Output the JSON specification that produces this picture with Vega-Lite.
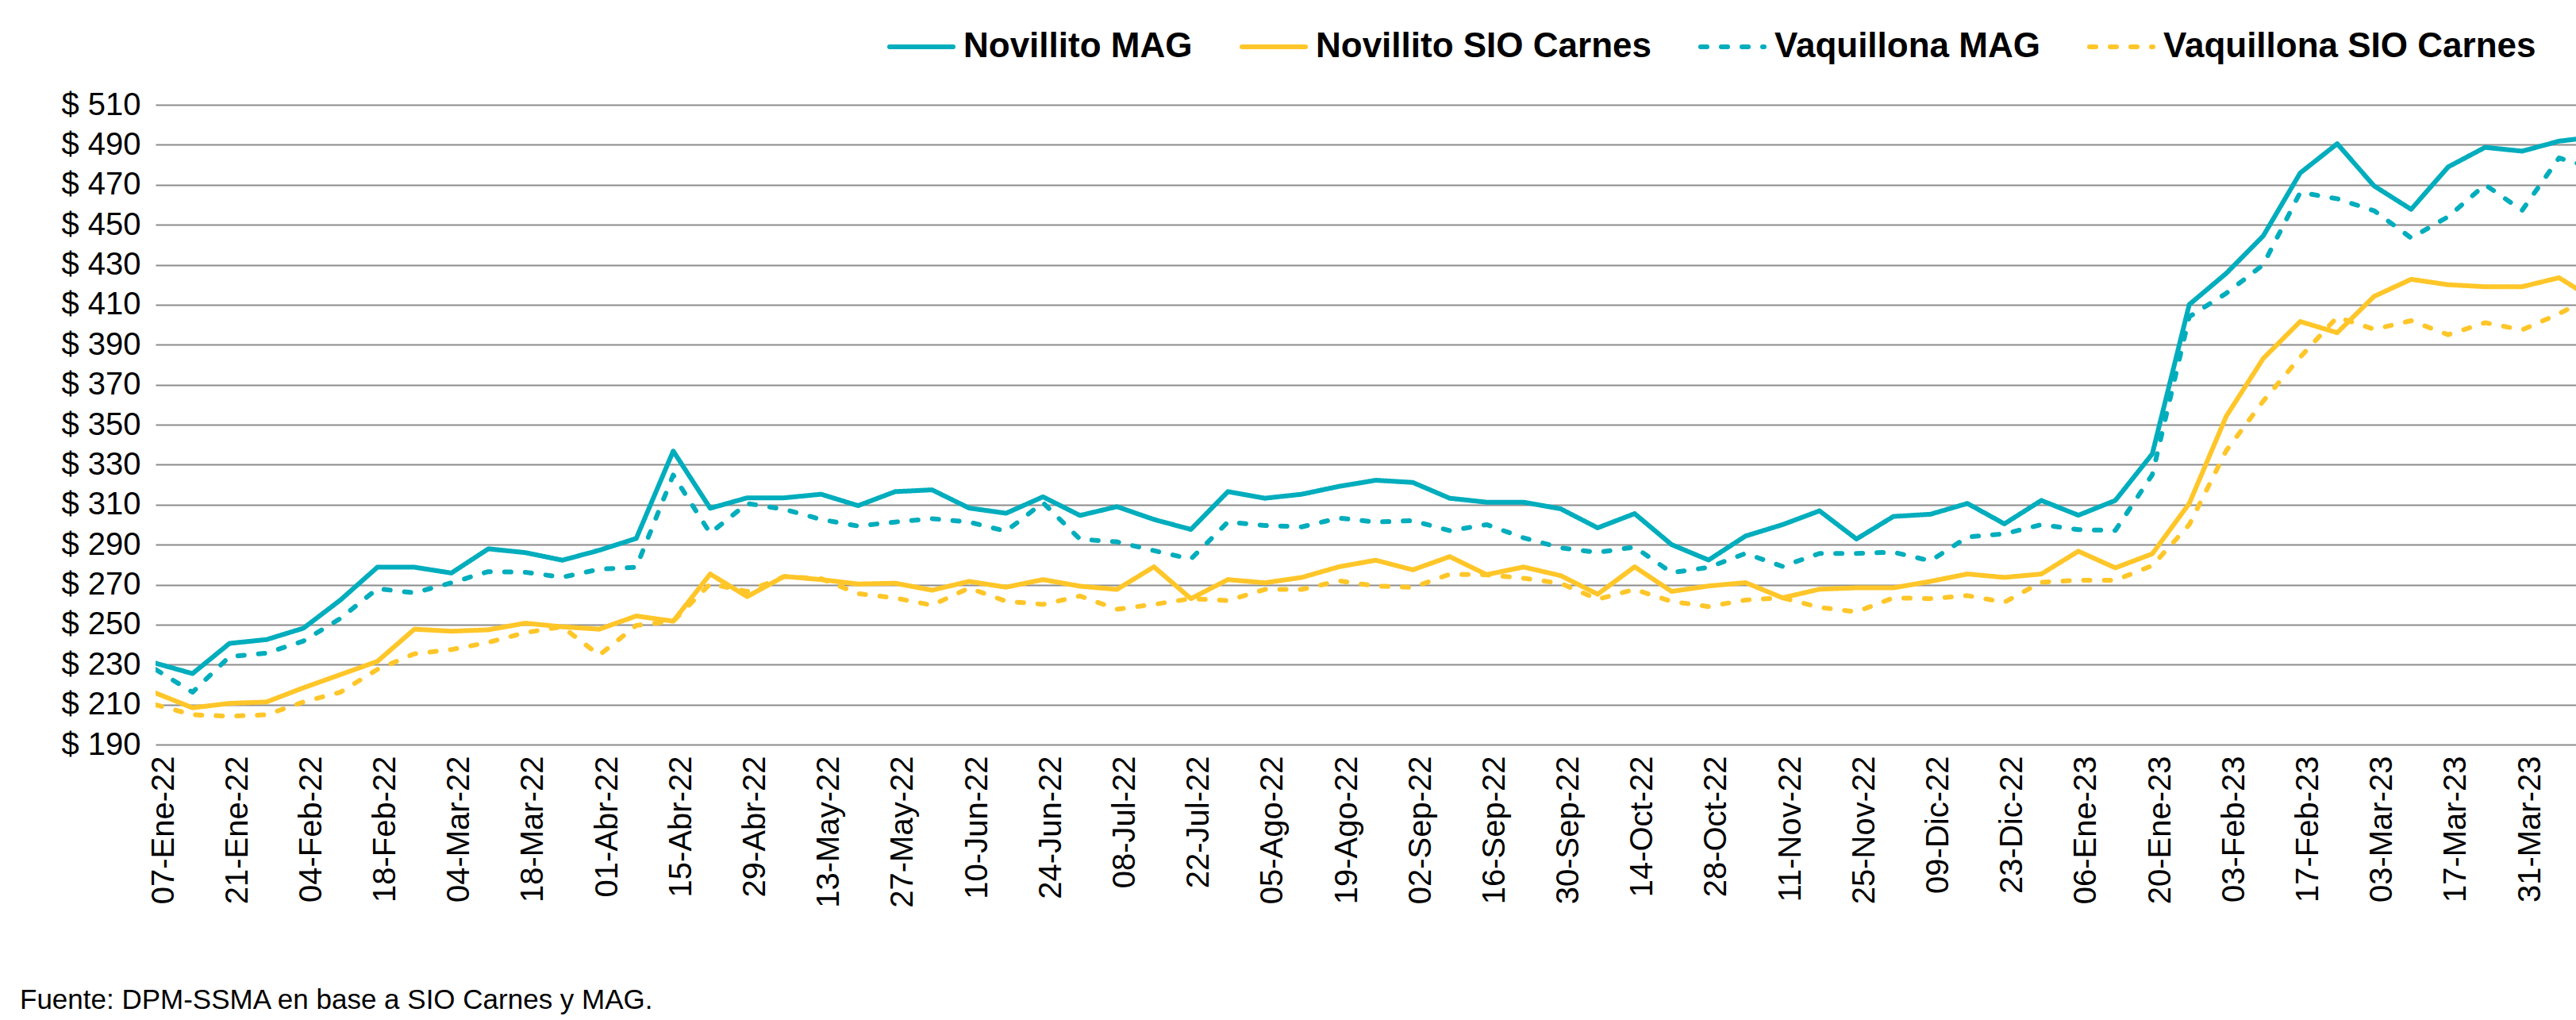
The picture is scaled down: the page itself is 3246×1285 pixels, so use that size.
{
"$schema": "https://vega.github.io/schema/vega-lite/v6.json",
"width": 3050,
"height": 806,
"autosize": {"type": "none"},
"padding": {"left": 196, "top": 132, "right": 0, "bottom": 347},
"background": "white",
"config": {"font": "Liberation Sans", "view": {"stroke": null}},
"title": {"text": "Fuente: DPM-SSMA en base a SIO Carnes y MAG.", "orient": "bottom", "anchor": "start", "frame": "group", "fontSize": 35, "fontWeight": "normal", "color": "#000000", "dx": -171, "offset": 100},
"data": {"values": [
{"fecha":"2022-01-07","serie":"Novillito MAG","precio":230.7},{"fecha":"2022-01-14","serie":"Novillito MAG","precio":225.5},{"fecha":"2022-01-21","serie":"Novillito MAG","precio":240.6},{"fecha":"2022-01-28","serie":"Novillito MAG","precio":242.5},{"fecha":"2022-02-04","serie":"Novillito MAG","precio":248.2},{"fecha":"2022-02-11","serie":"Novillito MAG","precio":262.3},{"fecha":"2022-02-18","serie":"Novillito MAG","precio":278.7},{"fecha":"2022-02-25","serie":"Novillito MAG","precio":278.7},{"fecha":"2022-03-04","serie":"Novillito MAG","precio":275.8},{"fecha":"2022-03-11","serie":"Novillito MAG","precio":287.9},
{"fecha":"2022-03-18","serie":"Novillito MAG","precio":286.0},{"fecha":"2022-03-25","serie":"Novillito MAG","precio":282.2},{"fecha":"2022-04-01","serie":"Novillito MAG","precio":287.2},{"fecha":"2022-04-08","serie":"Novillito MAG","precio":293.1},{"fecha":"2022-04-15","serie":"Novillito MAG","precio":336.8},{"fecha":"2022-04-22","serie":"Novillito MAG","precio":308.2},{"fecha":"2022-04-29","serie":"Novillito MAG","precio":313.4},{"fecha":"2022-05-06","serie":"Novillito MAG","precio":313.4},{"fecha":"2022-05-13","serie":"Novillito MAG","precio":315.2},{"fecha":"2022-05-20","serie":"Novillito MAG","precio":309.5},
{"fecha":"2022-05-27","serie":"Novillito MAG","precio":316.5},{"fecha":"2022-06-03","serie":"Novillito MAG","precio":317.4},{"fecha":"2022-06-10","serie":"Novillito MAG","precio":308.3},{"fecha":"2022-06-17","serie":"Novillito MAG","precio":305.7},{"fecha":"2022-06-24","serie":"Novillito MAG","precio":313.9},{"fecha":"2022-07-01","serie":"Novillito MAG","precio":304.6},{"fecha":"2022-07-08","serie":"Novillito MAG","precio":309.0},{"fecha":"2022-07-15","serie":"Novillito MAG","precio":302.6},{"fecha":"2022-07-22","serie":"Novillito MAG","precio":297.6},{"fecha":"2022-07-29","serie":"Novillito MAG","precio":316.5},
{"fecha":"2022-08-05","serie":"Novillito MAG","precio":313.2},{"fecha":"2022-08-12","serie":"Novillito MAG","precio":315.2},{"fecha":"2022-08-19","serie":"Novillito MAG","precio":319.1},{"fecha":"2022-08-26","serie":"Novillito MAG","precio":322.2},{"fecha":"2022-09-02","serie":"Novillito MAG","precio":321.1},{"fecha":"2022-09-09","serie":"Novillito MAG","precio":313.2},{"fecha":"2022-09-16","serie":"Novillito MAG","precio":311.2},{"fecha":"2022-09-23","serie":"Novillito MAG","precio":311.2},{"fecha":"2022-09-30","serie":"Novillito MAG","precio":307.9},{"fecha":"2022-10-07","serie":"Novillito MAG","precio":298.4},
{"fecha":"2022-10-14","serie":"Novillito MAG","precio":305.5},{"fecha":"2022-10-21","serie":"Novillito MAG","precio":290.0},{"fecha":"2022-10-28","serie":"Novillito MAG","precio":282.3},{"fecha":"2022-11-04","serie":"Novillito MAG","precio":294.3},{"fecha":"2022-11-11","serie":"Novillito MAG","precio":300.0},{"fecha":"2022-11-18","serie":"Novillito MAG","precio":306.9},{"fecha":"2022-11-25","serie":"Novillito MAG","precio":292.8},{"fecha":"2022-12-02","serie":"Novillito MAG","precio":304.1},{"fecha":"2022-12-09","serie":"Novillito MAG","precio":305.2},{"fecha":"2022-12-16","serie":"Novillito MAG","precio":310.6},
{"fecha":"2022-12-23","serie":"Novillito MAG","precio":300.4},{"fecha":"2022-12-30","serie":"Novillito MAG","precio":312.1},{"fecha":"2023-01-06","serie":"Novillito MAG","precio":304.7},{"fecha":"2023-01-13","serie":"Novillito MAG","precio":312.1},{"fecha":"2023-01-20","serie":"Novillito MAG","precio":335.4},{"fecha":"2023-01-27","serie":"Novillito MAG","precio":410.1},{"fecha":"2023-02-03","serie":"Novillito MAG","precio":425.7},{"fecha":"2023-02-10","serie":"Novillito MAG","precio":444.4},{"fecha":"2023-02-17","serie":"Novillito MAG","precio":475.9},{"fecha":"2023-02-24","serie":"Novillito MAG","precio":490.5},
{"fecha":"2023-03-03","serie":"Novillito MAG","precio":469.4},{"fecha":"2023-03-10","serie":"Novillito MAG","precio":457.7},{"fecha":"2023-03-17","serie":"Novillito MAG","precio":478.9},{"fecha":"2023-03-24","serie":"Novillito MAG","precio":488.7},{"fecha":"2023-03-31","serie":"Novillito MAG","precio":486.8},{"fecha":"2023-04-07","serie":"Novillito MAG","precio":491.8},{"fecha":"2023-04-14","serie":"Novillito MAG","precio":494.0},

{"fecha":"2022-01-07","serie":"Novillito SIO Carnes","precio":215.8},{"fecha":"2022-01-14","serie":"Novillito SIO Carnes","precio":208.4},{"fecha":"2022-01-21","serie":"Novillito SIO Carnes","precio":210.6},{"fecha":"2022-01-28","serie":"Novillito SIO Carnes","precio":211.3},{"fecha":"2022-02-04","serie":"Novillito SIO Carnes","precio":218.4},{"fecha":"2022-02-11","serie":"Novillito SIO Carnes","precio":225.0},{"fecha":"2022-02-18","serie":"Novillito SIO Carnes","precio":231.6},{"fecha":"2022-02-25","serie":"Novillito SIO Carnes","precio":247.7},{"fecha":"2022-03-04","serie":"Novillito SIO Carnes","precio":246.7},{"fecha":"2022-03-11","serie":"Novillito SIO Carnes","precio":247.4},
{"fecha":"2022-03-18","serie":"Novillito SIO Carnes","precio":250.7},{"fecha":"2022-03-25","serie":"Novillito SIO Carnes","precio":248.9},{"fecha":"2022-04-01","serie":"Novillito SIO Carnes","precio":247.7},{"fecha":"2022-04-08","serie":"Novillito SIO Carnes","precio":254.3},{"fecha":"2022-04-15","serie":"Novillito SIO Carnes","precio":251.7},{"fecha":"2022-04-22","serie":"Novillito SIO Carnes","precio":275.3},{"fecha":"2022-04-29","serie":"Novillito SIO Carnes","precio":264.0},{"fecha":"2022-05-06","serie":"Novillito SIO Carnes","precio":274.1},{"fecha":"2022-05-13","serie":"Novillito SIO Carnes","precio":272.5},{"fecha":"2022-05-20","serie":"Novillito SIO Carnes","precio":270.3},
{"fecha":"2022-05-27","serie":"Novillito SIO Carnes","precio":270.7},{"fecha":"2022-06-03","serie":"Novillito SIO Carnes","precio":267.2},{"fecha":"2022-06-10","serie":"Novillito SIO Carnes","precio":271.6},{"fecha":"2022-06-17","serie":"Novillito SIO Carnes","precio":268.7},{"fecha":"2022-06-24","serie":"Novillito SIO Carnes","precio":272.5},{"fecha":"2022-07-01","serie":"Novillito SIO Carnes","precio":269.2},{"fecha":"2022-07-08","serie":"Novillito SIO Carnes","precio":267.6},{"fecha":"2022-07-15","serie":"Novillito SIO Carnes","precio":278.9},{"fecha":"2022-07-22","serie":"Novillito SIO Carnes","precio":263.0},{"fecha":"2022-07-29","serie":"Novillito SIO Carnes","precio":272.5},
{"fecha":"2022-08-05","serie":"Novillito SIO Carnes","precio":270.9},{"fecha":"2022-08-12","serie":"Novillito SIO Carnes","precio":273.6},{"fecha":"2022-08-19","serie":"Novillito SIO Carnes","precio":278.9},{"fecha":"2022-08-26","serie":"Novillito SIO Carnes","precio":282.2},{"fecha":"2022-09-02","serie":"Novillito SIO Carnes","precio":277.4},{"fecha":"2022-09-09","serie":"Novillito SIO Carnes","precio":284.0},{"fecha":"2022-09-16","serie":"Novillito SIO Carnes","precio":275.0},{"fecha":"2022-09-23","serie":"Novillito SIO Carnes","precio":278.8},{"fecha":"2022-09-30","serie":"Novillito SIO Carnes","precio":274.5},{"fecha":"2022-10-07","serie":"Novillito SIO Carnes","precio":265.2},
{"fecha":"2022-10-14","serie":"Novillito SIO Carnes","precio":278.9},{"fecha":"2022-10-21","serie":"Novillito SIO Carnes","precio":266.6},{"fecha":"2022-10-28","serie":"Novillito SIO Carnes","precio":269.3},{"fecha":"2022-11-04","serie":"Novillito SIO Carnes","precio":271.0},{"fecha":"2022-11-11","serie":"Novillito SIO Carnes","precio":263.4},{"fecha":"2022-11-18","serie":"Novillito SIO Carnes","precio":267.7},{"fecha":"2022-11-25","serie":"Novillito SIO Carnes","precio":268.4},{"fecha":"2022-12-02","serie":"Novillito SIO Carnes","precio":268.4},{"fecha":"2022-12-09","serie":"Novillito SIO Carnes","precio":271.6},{"fecha":"2022-12-16","serie":"Novillito SIO Carnes","precio":275.3},
{"fecha":"2022-12-23","serie":"Novillito SIO Carnes","precio":273.6},{"fecha":"2022-12-30","serie":"Novillito SIO Carnes","precio":275.3},{"fecha":"2023-01-06","serie":"Novillito SIO Carnes","precio":286.7},{"fecha":"2023-01-13","serie":"Novillito SIO Carnes","precio":278.4},{"fecha":"2023-01-20","serie":"Novillito SIO Carnes","precio":285.4},{"fecha":"2023-01-27","serie":"Novillito SIO Carnes","precio":310.6},{"fecha":"2023-02-03","serie":"Novillito SIO Carnes","precio":354.2},{"fecha":"2023-02-10","serie":"Novillito SIO Carnes","precio":383.1},{"fecha":"2023-02-17","serie":"Novillito SIO Carnes","precio":401.6},{"fecha":"2023-02-24","serie":"Novillito SIO Carnes","precio":396.0},
{"fecha":"2023-03-03","serie":"Novillito SIO Carnes","precio":414.2},{"fecha":"2023-03-10","serie":"Novillito SIO Carnes","precio":422.7},{"fecha":"2023-03-17","serie":"Novillito SIO Carnes","precio":420.0},{"fecha":"2023-03-24","serie":"Novillito SIO Carnes","precio":419.0},{"fecha":"2023-03-31","serie":"Novillito SIO Carnes","precio":419.0},{"fecha":"2023-04-07","serie":"Novillito SIO Carnes","precio":423.5},{"fecha":"2023-04-14","serie":"Novillito SIO Carnes","precio":412.0},

{"fecha":"2022-01-07","serie":"Vaquillona MAG","precio":227.6},{"fecha":"2022-01-14","serie":"Vaquillona MAG","precio":216.2},{"fecha":"2022-01-21","serie":"Vaquillona MAG","precio":234.0},{"fecha":"2022-01-28","serie":"Vaquillona MAG","precio":235.7},{"fecha":"2022-02-04","serie":"Vaquillona MAG","precio":241.8},{"fecha":"2022-02-11","serie":"Vaquillona MAG","precio":253.1},{"fecha":"2022-02-18","serie":"Vaquillona MAG","precio":268.0},{"fecha":"2022-02-25","serie":"Vaquillona MAG","precio":265.9},{"fecha":"2022-03-04","serie":"Vaquillona MAG","precio":270.9},{"fecha":"2022-03-11","serie":"Vaquillona MAG","precio":276.5},
{"fecha":"2022-03-18","serie":"Vaquillona MAG","precio":276.2},{"fecha":"2022-03-25","serie":"Vaquillona MAG","precio":273.7},{"fecha":"2022-04-01","serie":"Vaquillona MAG","precio":277.7},{"fecha":"2022-04-08","serie":"Vaquillona MAG","precio":278.7},{"fecha":"2022-04-15","serie":"Vaquillona MAG","precio":324.8},{"fecha":"2022-04-22","serie":"Vaquillona MAG","precio":295.7},{"fecha":"2022-04-29","serie":"Vaquillona MAG","precio":310.6},{"fecha":"2022-05-06","serie":"Vaquillona MAG","precio":307.7},{"fecha":"2022-05-13","serie":"Vaquillona MAG","precio":302.6},{"fecha":"2022-05-20","serie":"Vaquillona MAG","precio":299.3},
{"fecha":"2022-05-27","serie":"Vaquillona MAG","precio":301.3},{"fecha":"2022-06-03","serie":"Vaquillona MAG","precio":303.0},{"fecha":"2022-06-10","serie":"Vaquillona MAG","precio":301.3},{"fecha":"2022-06-17","serie":"Vaquillona MAG","precio":296.7},{"fecha":"2022-06-24","serie":"Vaquillona MAG","precio":311.0},{"fecha":"2022-07-01","serie":"Vaquillona MAG","precio":292.7},{"fecha":"2022-07-08","serie":"Vaquillona MAG","precio":291.4},{"fecha":"2022-07-15","serie":"Vaquillona MAG","precio":287.0},{"fecha":"2022-07-22","serie":"Vaquillona MAG","precio":282.8},{"fecha":"2022-07-29","serie":"Vaquillona MAG","precio":301.3},
{"fecha":"2022-08-05","serie":"Vaquillona MAG","precio":299.6},{"fecha":"2022-08-12","serie":"Vaquillona MAG","precio":298.9},{"fecha":"2022-08-19","serie":"Vaquillona MAG","precio":303.3},{"fecha":"2022-08-26","serie":"Vaquillona MAG","precio":301.3},{"fecha":"2022-09-02","serie":"Vaquillona MAG","precio":302.0},{"fecha":"2022-09-09","serie":"Vaquillona MAG","precio":297.0},{"fecha":"2022-09-16","serie":"Vaquillona MAG","precio":300.0},{"fecha":"2022-09-23","serie":"Vaquillona MAG","precio":293.4},{"fecha":"2022-09-30","serie":"Vaquillona MAG","precio":288.4},{"fecha":"2022-10-07","serie":"Vaquillona MAG","precio":286.1},
{"fecha":"2022-10-14","serie":"Vaquillona MAG","precio":288.8},{"fecha":"2022-10-21","serie":"Vaquillona MAG","precio":276.0},{"fecha":"2022-10-28","serie":"Vaquillona MAG","precio":278.6},{"fecha":"2022-11-04","serie":"Vaquillona MAG","precio":285.6},{"fecha":"2022-11-11","serie":"Vaquillona MAG","precio":279.1},{"fecha":"2022-11-18","serie":"Vaquillona MAG","precio":285.6},{"fecha":"2022-11-25","serie":"Vaquillona MAG","precio":285.6},{"fecha":"2022-12-02","serie":"Vaquillona MAG","precio":286.2},{"fecha":"2022-12-09","serie":"Vaquillona MAG","precio":281.9},{"fecha":"2022-12-16","serie":"Vaquillona MAG","precio":293.8},
{"fecha":"2022-12-23","serie":"Vaquillona MAG","precio":295.4},{"fecha":"2022-12-30","serie":"Vaquillona MAG","precio":300.0},{"fecha":"2023-01-06","serie":"Vaquillona MAG","precio":297.5},{"fecha":"2023-01-13","serie":"Vaquillona MAG","precio":297.1},{"fecha":"2023-01-20","serie":"Vaquillona MAG","precio":325.0},{"fecha":"2023-01-27","serie":"Vaquillona MAG","precio":404.0},{"fecha":"2023-02-03","serie":"Vaquillona MAG","precio":415.7},{"fecha":"2023-02-10","serie":"Vaquillona MAG","precio":430.0},{"fecha":"2023-02-17","serie":"Vaquillona MAG","precio":466.2},{"fecha":"2023-02-24","serie":"Vaquillona MAG","precio":463.0},
{"fecha":"2023-03-03","serie":"Vaquillona MAG","precio":457.0},{"fecha":"2023-03-10","serie":"Vaquillona MAG","precio":443.4},{"fecha":"2023-03-17","serie":"Vaquillona MAG","precio":454.0},{"fecha":"2023-03-24","serie":"Vaquillona MAG","precio":470.0},{"fecha":"2023-03-31","serie":"Vaquillona MAG","precio":457.2},{"fecha":"2023-04-07","serie":"Vaquillona MAG","precio":483.4},{"fecha":"2023-04-14","serie":"Vaquillona MAG","precio":478.0},

{"fecha":"2022-01-07","serie":"Vaquillona SIO Carnes","precio":209.9},{"fecha":"2022-01-14","serie":"Vaquillona SIO Carnes","precio":204.9},{"fecha":"2022-01-21","serie":"Vaquillona SIO Carnes","precio":204.2},{"fecha":"2022-01-28","serie":"Vaquillona SIO Carnes","precio":204.9},{"fecha":"2022-02-04","serie":"Vaquillona SIO Carnes","precio":211.3},{"fecha":"2022-02-11","serie":"Vaquillona SIO Carnes","precio":216.2},{"fecha":"2022-02-18","serie":"Vaquillona SIO Carnes","precio":227.6},{"fecha":"2022-02-25","serie":"Vaquillona SIO Carnes","precio":235.4},{"fecha":"2022-03-04","serie":"Vaquillona SIO Carnes","precio":237.5},{"fecha":"2022-03-11","serie":"Vaquillona SIO Carnes","precio":241.1},
{"fecha":"2022-03-18","serie":"Vaquillona SIO Carnes","precio":246.0},{"fecha":"2022-03-25","serie":"Vaquillona SIO Carnes","precio":248.9},{"fecha":"2022-04-01","serie":"Vaquillona SIO Carnes","precio":234.7},{"fecha":"2022-04-08","serie":"Vaquillona SIO Carnes","precio":249.6},{"fecha":"2022-04-15","serie":"Vaquillona SIO Carnes","precio":251.7},{"fecha":"2022-04-22","serie":"Vaquillona SIO Carnes","precio":270.4},{"fecha":"2022-04-29","serie":"Vaquillona SIO Carnes","precio":266.6},{"fecha":"2022-05-06","serie":"Vaquillona SIO Carnes","precio":274.0},{"fecha":"2022-05-13","serie":"Vaquillona SIO Carnes","precio":273.0},{"fecha":"2022-05-20","serie":"Vaquillona SIO Carnes","precio":265.5},
{"fecha":"2022-05-27","serie":"Vaquillona SIO Carnes","precio":263.3},{"fecha":"2022-06-03","serie":"Vaquillona SIO Carnes","precio":259.7},{"fecha":"2022-06-10","serie":"Vaquillona SIO Carnes","precio":268.3},{"fecha":"2022-06-17","serie":"Vaquillona SIO Carnes","precio":261.7},{"fecha":"2022-06-24","serie":"Vaquillona SIO Carnes","precio":260.1},{"fecha":"2022-07-01","serie":"Vaquillona SIO Carnes","precio":264.3},{"fecha":"2022-07-08","serie":"Vaquillona SIO Carnes","precio":257.7},{"fecha":"2022-07-15","serie":"Vaquillona SIO Carnes","precio":260.1},{"fecha":"2022-07-22","serie":"Vaquillona SIO Carnes","precio":263.0},{"fecha":"2022-07-29","serie":"Vaquillona SIO Carnes","precio":262.0},
{"fecha":"2022-08-05","serie":"Vaquillona SIO Carnes","precio":267.6},{"fecha":"2022-08-12","serie":"Vaquillona SIO Carnes","precio":267.6},{"fecha":"2022-08-19","serie":"Vaquillona SIO Carnes","precio":271.9},{"fecha":"2022-08-26","serie":"Vaquillona SIO Carnes","precio":269.3},{"fecha":"2022-09-02","serie":"Vaquillona SIO Carnes","precio":268.6},{"fecha":"2022-09-09","serie":"Vaquillona SIO Carnes","precio":275.2},{"fecha":"2022-09-16","serie":"Vaquillona SIO Carnes","precio":274.9},{"fecha":"2022-09-23","serie":"Vaquillona SIO Carnes","precio":273.2},{"fecha":"2022-09-30","serie":"Vaquillona SIO Carnes","precio":270.6},{"fecha":"2022-10-07","serie":"Vaquillona SIO Carnes","precio":262.7},
{"fecha":"2022-10-14","serie":"Vaquillona SIO Carnes","precio":267.6},{"fecha":"2022-10-21","serie":"Vaquillona SIO Carnes","precio":261.6},{"fecha":"2022-10-28","serie":"Vaquillona SIO Carnes","precio":259.0},{"fecha":"2022-11-04","serie":"Vaquillona SIO Carnes","precio":262.3},{"fecha":"2022-11-11","serie":"Vaquillona SIO Carnes","precio":263.4},{"fecha":"2022-11-18","serie":"Vaquillona SIO Carnes","precio":258.6},{"fecha":"2022-11-25","serie":"Vaquillona SIO Carnes","precio":256.4},{"fecha":"2022-12-02","serie":"Vaquillona SIO Carnes","precio":263.4},{"fecha":"2022-12-09","serie":"Vaquillona SIO Carnes","precio":263.0},{"fecha":"2022-12-16","serie":"Vaquillona SIO Carnes","precio":264.5},
{"fecha":"2022-12-23","serie":"Vaquillona SIO Carnes","precio":261.2},{"fecha":"2022-12-30","serie":"Vaquillona SIO Carnes","precio":271.2},{"fecha":"2023-01-06","serie":"Vaquillona SIO Carnes","precio":272.2},{"fecha":"2023-01-13","serie":"Vaquillona SIO Carnes","precio":272.2},{"fecha":"2023-01-20","serie":"Vaquillona SIO Carnes","precio":279.5},{"fecha":"2023-01-27","serie":"Vaquillona SIO Carnes","precio":300.0},{"fecha":"2023-02-03","serie":"Vaquillona SIO Carnes","precio":337.0},{"fecha":"2023-02-10","serie":"Vaquillona SIO Carnes","precio":361.8},{"fecha":"2023-02-17","serie":"Vaquillona SIO Carnes","precio":383.8},{"fecha":"2023-02-24","serie":"Vaquillona SIO Carnes","precio":403.8},
{"fecha":"2023-03-03","serie":"Vaquillona SIO Carnes","precio":397.7},{"fecha":"2023-03-10","serie":"Vaquillona SIO Carnes","precio":402.0},{"fecha":"2023-03-17","serie":"Vaquillona SIO Carnes","precio":395.0},{"fecha":"2023-03-24","serie":"Vaquillona SIO Carnes","precio":401.0},{"fecha":"2023-03-31","serie":"Vaquillona SIO Carnes","precio":397.4},{"fecha":"2023-04-07","serie":"Vaquillona SIO Carnes","precio":405.5},{"fecha":"2023-04-14","serie":"Vaquillona SIO Carnes","precio":415.0}
]},
"mark": {"type": "line", "strokeCap": "round", "strokeJoin": "round", "clip": true},
"encoding": {
"x": {"field": "fecha", "type": "temporal",
 "scale": {"type": "utc", "domain": [{"year": 2022, "month": 1, "date": 7, "utc": true}, {"year": 2023, "month": 4, "date": 10, "hours": 5, "utc": true}]},
 "axis": {"title": null, "grid": false, "ticks": false, "domain": false, "labelAngle": 270, "labelAlign": "right", "labelBaseline": "middle", "labelFontSize": 40, "labelColor": "#000000", "labelPadding": 14, "labelOffset": 10, "labelOverlap": false, "labelBound": false, "labelFlush": false, "labelLimit": 0,
  "labelExpr": "utcFormat(datum.value, '%d') + '-' + ['Ene','Feb','Mar','Abr','May','Jun','Jul','Ago','Sep','Oct','Nov','Dic'][utcmonth(datum.value)] + '-' + utcFormat(datum.value, '%y')",
  "values": [
   {"year": 2022, "month": 1, "date": 7, "utc": true}, {"year": 2022, "month": 1, "date": 21, "utc": true}, {"year": 2022, "month": 2, "date": 4, "utc": true}, {"year": 2022, "month": 2, "date": 18, "utc": true}, {"year": 2022, "month": 3, "date": 4, "utc": true}, {"year": 2022, "month": 3, "date": 18, "utc": true}, {"year": 2022, "month": 4, "date": 1, "utc": true}, {"year": 2022, "month": 4, "date": 15, "utc": true}, {"year": 2022, "month": 4, "date": 29, "utc": true}, {"year": 2022, "month": 5, "date": 13, "utc": true}, {"year": 2022, "month": 5, "date": 27, "utc": true}, {"year": 2022, "month": 6, "date": 10, "utc": true}, {"year": 2022, "month": 6, "date": 24, "utc": true}, {"year": 2022, "month": 7, "date": 8, "utc": true}, {"year": 2022, "month": 7, "date": 22, "utc": true}, {"year": 2022, "month": 8, "date": 5, "utc": true}, {"year": 2022, "month": 8, "date": 19, "utc": true}, {"year": 2022, "month": 9, "date": 2, "utc": true}, {"year": 2022, "month": 9, "date": 16, "utc": true}, {"year": 2022, "month": 9, "date": 30, "utc": true}, {"year": 2022, "month": 10, "date": 14, "utc": true}, {"year": 2022, "month": 10, "date": 28, "utc": true}, {"year": 2022, "month": 11, "date": 11, "utc": true}, {"year": 2022, "month": 11, "date": 25, "utc": true}, {"year": 2022, "month": 12, "date": 9, "utc": true}, {"year": 2022, "month": 12, "date": 23, "utc": true}, {"year": 2023, "month": 1, "date": 6, "utc": true}, {"year": 2023, "month": 1, "date": 20, "utc": true}, {"year": 2023, "month": 2, "date": 3, "utc": true}, {"year": 2023, "month": 2, "date": 17, "utc": true}, {"year": 2023, "month": 3, "date": 3, "utc": true}, {"year": 2023, "month": 3, "date": 17, "utc": true}, {"year": 2023, "month": 3, "date": 31, "utc": true}
  ]}},
"y": {"field": "precio", "type": "quantitative",
 "scale": {"domain": [190, 510], "nice": false, "zero": false},
 "axis": {"title": null, "values": [190, 210, 230, 250, 270, 290, 310, 330, 350, 370, 390, 410, 430, 450, 470, 490, 510], "labelExpr": "'$ ' + datum.value", "labelFontSize": 40, "labelColor": "#000000", "labelPadding": 19, "ticks": false, "domain": false, "grid": true, "gridColor": "#8C8C8C", "gridWidth": 2}},
"strokeWidth": {"field": "serie", "type": "nominal",
 "scale": {"domain": ["Novillito MAG", "Novillito SIO Carnes", "Vaquillona MAG", "Vaquillona SIO Carnes"], "range": [6, 6, 7.5, 7.5]},
 "legend": null},
"color": {"field": "serie", "type": "nominal",
 "scale": {"domain": ["Novillito MAG", "Novillito SIO Carnes", "Vaquillona MAG", "Vaquillona SIO Carnes"], "range": ["#00ADBD", "#FFC629", "#00ADBD", "#FFC629"]},
 "legend": {"title": null, "orient": "none", "legendX": 922, "legendY": -116, "direction": "horizontal", "columns": 4, "symbolType": "stroke", "symbolSize": 6400, "symbolStrokeWidth": 10, "labelFontSize": 44, "labelFontWeight": "bold", "labelColor": "#000000", "columnPadding": 50, "labelOffset": 10, "labelLimit": 0,
  "encode": {"symbols": {"update": {"strokeCap": {"value": "round"}}},
   "labels": {"update": {"text": {"signal": "datum.value == 'Vaquillona MAG' ? '\u00a0\u00a0\u00a0Vaquillona MAG' : (datum.value == 'Vaquillona SIO Carnes' ? '\u00a0Vaquillona SIO Carnes' : datum.label)"}}}}}},
"strokeDash": {"field": "serie", "type": "nominal",
 "scale": {"domain": ["Novillito MAG", "Novillito SIO Carnes", "Vaquillona MAG", "Vaquillona SIO Carnes"], "range": [[1, 0], [1, 0], [8, 18], [8, 18]]},
 "legend": {"title": null, "orient": "none", "legendX": 922, "legendY": -116, "direction": "horizontal", "columns": 4, "symbolType": "stroke", "symbolSize": 6400, "symbolStrokeWidth": 10, "labelFontSize": 44, "labelFontWeight": "bold", "labelColor": "#000000", "columnPadding": 50, "labelOffset": 10, "labelLimit": 0,
  "encode": {"symbols": {"update": {"strokeCap": {"value": "round"}}},
   "labels": {"update": {"text": {"signal": "datum.value == 'Vaquillona MAG' ? '\u00a0\u00a0\u00a0Vaquillona MAG' : (datum.value == 'Vaquillona SIO Carnes' ? '\u00a0Vaquillona SIO Carnes' : datum.label)"}}}}}}
}
}
